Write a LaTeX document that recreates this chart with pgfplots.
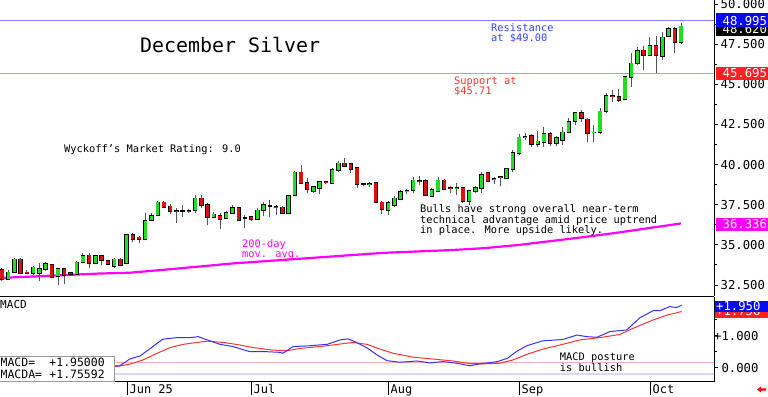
\documentclass[border=0pt]{standalone}
\usepackage{fontspec}
\setmainfont{DejaVu Sans Mono}
\usepackage{pgfplots}
\pgfplotsset{compat=1.18}
\usepackage{pgfplotstable}

\definecolor{cgreen}{HTML}{22DD22}
\definecolor{cred}{HTML}{DD1111}
\definecolor{cwick}{HTML}{555555}
\definecolor{resline}{HTML}{8080FF}
\definecolor{supline}{HTML}{FF8888}
\definecolor{mag}{HTML}{FF00FF}
\definecolor{macdblue}{HTML}{3333FF}
\definecolor{macdred}{HTML}{FF3333}
\definecolor{boxblue}{HTML}{0A0AF0}
\definecolor{boxred}{HTML}{FF2020}
\definecolor{annblue}{HTML}{3344FF}
\definecolor{annred}{HTML}{FF3333}
\definecolor{zeropink}{HTML}{FFB0B0}
\definecolor{lav}{HTML}{D8D8FF}

\newcommand{\fs}[1]{\fontsize{#1}{#1}\selectfont}

\pgfplotstableread{
x o h l c
1 32.86 33.43 32.80 33.30
2 33.30 34.17 33.24 34.11
5 33.24 33.68 33.11 33.61
6 33.24 33.86 32.74 33.49
7 33.49 33.92 33.36 33.80
9 33.05 33.55 32.49 33.49
12 33.18 33.99 33.11 33.92
13 33.92 34.49 33.86 34.30
15 33.86 34.36 33.80 34.30
18 33.68 34.17 33.55 34.11
20 33.86 35.67 33.80 35.61
23 35.36 36.98 35.30 36.48
24 36.54 36.98 36.48 36.79
25 36.85 37.73 36.79 37.66
31 37.16 38.10 36.98 37.91
34 36.73 37.04 36.67 36.91
36 36.67 37.10 36.60 36.98
37 36.98 37.48 36.91 37.29
41 36.60 37.29 36.54 37.16
42 37.16 37.66 36.79 37.48
46 36.98 38.10 36.91 38.04
47 38.10 39.59 38.04 39.53
50 38.35 38.66 38.22 38.60
51 38.54 38.97 38.16 38.91
53 38.85 39.78 38.78 39.66
54 39.66 40.22 39.53 40.09
59 38.77 38.91 38.60 38.80
62 37.16 37.73 36.85 37.60
63 37.48 38.04 37.35 37.91
64 37.85 38.41 37.79 38.29
65 38.33 38.47 38.16 38.35
66 38.41 39.22 38.22 39.03
69 38.04 38.53 37.97 38.41
70 38.35 39.22 38.29 39.03
73 38.51 38.85 38.10 38.55
75 37.73 38.41 37.48 38.35
76 38.35 38.66 38.22 38.54
77 38.54 39.53 38.22 39.35
79 39.08 39.22 38.78 39.12
81 39.16 39.78 39.10 39.72
82 39.72 40.90 39.53 40.72
83 40.72 41.90 40.59 41.71
84 41.70 41.96 41.52 41.73
86 41.28 42.09 41.09 41.46
87 41.40 42.34 41.09 41.90
89 41.34 41.78 41.15 41.65
90 41.53 42.34 41.21 42.02
91 42.02 42.90 41.96 42.65
92 42.71 43.27 42.46 43.21
95 41.99 42.46 41.40 42.02
96 42.02 43.52 41.90 43.33
97 43.33 44.45 43.21 44.27
100 44.08 45.51 44.02 45.45
101 45.45 46.95 44.83 46.32
102 46.32 47.32 46.20 47.07
104 46.82 47.94 46.76 47.38
106 46.76 48.26 46.51 47.94
107 48.01 48.57 47.94 48.44
109 47.63 48.82 47.51 48.62
}\greendata

\pgfplotstableread{
x o h l c
0 33.43 33.55 32.74 32.86
3 34.11 34.17 33.18 33.24
4 33.30 33.43 33.18 33.24
8 33.74 33.80 32.93 32.99
10 33.49 33.55 32.55 33.11
11 33.24 33.30 33.11 33.18
14 34.36 34.49 33.55 33.86
16 34.30 34.36 33.74 34.05
17 33.99 34.05 33.74 33.80
19 34.11 34.17 33.68 33.74
21 35.61 35.73 35.17 35.36
22 35.48 35.54 35.11 35.36
26 37.66 37.73 37.29 37.35
27 37.41 37.54 36.91 37.10
28 37.13 37.29 36.35 37.10
30 37.13 37.23 36.98 37.10
32 37.91 38.10 37.29 37.48
33 37.48 37.60 36.23 36.73
35 36.79 36.98 35.98 36.60
38 37.29 37.35 36.48 36.54
40 36.73 36.79 36.48 36.60
44 37.38 37.48 36.85 37.33
45 37.35 37.41 36.91 36.98
48 39.53 39.97 38.78 38.85
49 38.85 39.16 38.22 38.47
52 38.93 38.97 38.78 38.89
55 40.09 40.40 39.84 39.91
56 40.03 40.09 39.47 39.72
57 39.78 39.84 38.53 38.78
60 38.85 38.91 37.60 37.66
61 37.66 37.73 36.91 37.23
67 38.99 39.28 38.72 38.94
68 38.97 39.10 38.04 38.10
71 39.03 39.10 38.41 38.47
72 38.55 38.66 38.22 38.51
74 38.54 38.60 37.60 37.73
78 39.47 39.53 38.91 38.97
80 39.24 39.28 38.66 39.20
85 41.78 41.90 41.09 41.28
88 41.90 42.02 41.15 41.34
93 43.21 43.40 42.65 42.90
94 42.83 42.90 41.40 41.96
98 44.29 44.64 43.89 44.25
99 44.21 44.70 43.89 44.02
103 47.13 47.38 45.89 46.82
105 47.38 48.01 45.70 46.82
108 48.44 48.57 46.95 47.63
}\reddata

\pgfplotstableread{
x o h l c
29 37.10 37.48 36.73 37.12
39 36.67 36.85 36.04 36.70
43 37.41 37.79 36.73 37.43
58 38.78 38.85 38.66 38.80
}\blackdata

\pgfplotstableread{
x ma
0 32.94
15.7 33.21
20.5 33.26
26.5 33.46
37.1 33.84
47.8 34.13
61.3 34.50
72.1 34.67
77.4 34.79
82.7 34.98
88.1 35.23
93.4 35.48
98.7 35.75
104.2 36.06
109 36.33
}\madata

\pgfplotstableread{
x v
18.1 0.06
18.9 0.06
20.5 0.27
22.2 0.37
23.8 0.60
25.8 0.89
28.1 0.94
30.2 0.94
31.5 0.97
32.9 0.87
35.0 0.73
37.1 0.66
39.8 0.50
42.5 0.50
44.6 0.48
45.1 0.45
46.7 0.66
49.0 0.68
52.2 0.73
54.3 0.87
55.5 0.90
56.7 0.81
58.6 0.62
60.2 0.40
61.8 0.22
63.9 0.17
66.6 0.21
68.7 0.15
70.8 0.19
73.0 0.14
75.1 0.06
76.7 0.12
79.5 0.19
81.1 0.29
82.7 0.52
84.3 0.69
86.8 0.84
90.0 0.88
92.3 1.02
93.9 0.97
95.5 0.95
97.6 1.13
100.3 1.18
102.4 1.56
104.5 1.78
105.6 1.78
107.2 1.91
108.3 1.88
109.1 1.95
}\macddata

\pgfplotstableread{
x v
18.1 0.03
20.5 0.11
22.6 0.24
24.9 0.45
27.0 0.63
29.1 0.73
31.3 0.79
32.9 0.83
35.5 0.79
38.2 0.71
40.3 0.63
43.5 0.55
45.7 0.53
47.8 0.60
51.0 0.66
53.1 0.71
56.3 0.79
58.6 0.73
60.7 0.58
62.8 0.45
66.0 0.33
69.2 0.27
72.4 0.21
75.1 0.13
77.2 0.12
79.9 0.14
82.0 0.24
84.3 0.42
86.8 0.58
90.0 0.73
92.8 0.87
96.0 0.94
99.2 1.04
101.3 1.23
104.5 1.49
106.7 1.64
109.1 1.756
}\signaldata

\pgfplotsset{
  wick/.style={draw=none, mark=none, forget plot,
    error bars/.cd, y dir=plus, y explicit, error mark=none,
    error bar style={line width=1bp, draw=cwick}},
  bodyout/.style={draw=none, mark=none, forget plot,
    error bars/.cd, y dir=plus, y explicit, error mark=none,
    error bar style={line width=4.4bp, draw=black}},
  bodyin/.style={draw=none, mark=none, forget plot,
    error bars/.cd, y dir=plus, y explicit, error mark=none,
    error bar style={line width=3.2bp, draw=#1}},
}

\begin{document}
\begin{tikzpicture}[x=1bp,y=1bp]
\useasboundingbox (0,0) rectangle (768,396);

% ---------------- price panel ----------------
\begin{axis}[
  at={(0bp,100bp)}, anchor=south west,
  width=714bp, height=296bp, scale only axis,
  xmin=-0.32, xmax=114.3, ymin=31.81, ymax=50.249,
  axis x line=bottom, axis y line=right,
  axis line style={-, line width=1bp, black},
  xtick=\empty,
  ytick={32.5,35,37.5,40,42.5,45,47.5,50},
  yticklabels={32.500,35.000,37.500,40.000,42.500,45.000,47.500,50.000},
  minor ytick={33.75,36.25,38.75,41.25,43.75,46.25,48.75},
  tick align=outside, major tick length=4bp, minor tick length=2.5bp,
  tick style={black, line width=0.8bp},
  yticklabel style={font=\fs{12.3}, anchor=base west, inner sep=0pt, xshift=2.5bp, yshift=-4.5bp},
]
\addplot[resline, line width=1.2bp, forget plot] coordinates {(-1,48.97) (115,48.97)};
\addplot[supline, line width=1.2bp, forget plot] coordinates {(-1,45.69) (115,45.69)};
\addplot[mag, line width=2.2bp, forget plot] table[x=x, y=ma] {\madata};

% wicks
\addplot[wick] table[x=x, y=l, y error plus expr=\thisrow{h}-\thisrow{l}] {\greendata};
\addplot[wick] table[x=x, y=l, y error plus expr=\thisrow{h}-\thisrow{l}] {\reddata};
\addplot[wick] table[x=x, y=l, y error plus expr=\thisrow{h}-\thisrow{l}] {\blackdata};
% bodies
\addplot[bodyout] table[x=x, y expr=\thisrow{o}-0.035, y error plus expr=\thisrow{c}-\thisrow{o}+0.07] {\greendata};
\addplot[bodyin=cgreen] table[x=x, y=o, y error plus expr=\thisrow{c}-\thisrow{o}] {\greendata};
\addplot[bodyout] table[x=x, y expr=\thisrow{c}-0.035, y error plus expr=\thisrow{o}-\thisrow{c}+0.07] {\reddata};
\addplot[bodyin=cred] table[x=x, y=c, y error plus expr=\thisrow{o}-\thisrow{c}] {\reddata};
\addplot[bodyout] table[x=x, y expr=\thisrow{o}-0.035, y error plus expr=\thisrow{c}-\thisrow{o}+0.07] {\blackdata};
\end{axis}

% ---------------- MACD panel ----------------
\begin{axis}[
  at={(0bp,14.3bp)}, anchor=south west,
  width=714bp, height=84.7bp, scale only axis,
  xmin=-0.32, xmax=114.3, ymin=-0.4375, ymax=2.209,
  axis x line=bottom, axis y line=right,
  axis line style={-, line width=1bp, black},
  xtick=\empty,
  ytick={0,1,2}, yticklabels={\phantom{+}0.000,+1.000,{}},
  minor ytick={0.5,1.5},
  tick align=outside, major tick length=4bp, minor tick length=2.5bp,
  tick style={black, line width=0.8bp},
  yticklabel style={font=\fs{12.3}, anchor=base west, inner sep=0pt, xshift=-4bp, yshift=-4.5bp},
]
\addplot[zeropink, line width=0.8bp, forget plot] coordinates {(-1,0.17) (115,0.17)};
\addplot[lav, line width=2bp, forget plot] coordinates {(-1,-0.21) (115,-0.21)};
\addplot[macdred, line width=1bp, forget plot] table[x=x, y=v] {\signaldata};
\addplot[macdblue, line width=1bp, forget plot] table[x=x, y=v] {\macddata};
\end{axis}

% ---------------- month ticks ----------------
\begin{axis}[
  at={(0bp,14.3bp)}, anchor=south west,
  width=714bp, height=84.7bp, scale only axis,
  xmin=-0.32, xmax=114.3, ymin=0, ymax=1,
  axis x line=bottom, axis y line=none,
  axis line style={-, line width=1bp, black},
  xtick={20.06,39.97,61.96,82.98,104.01},
  xticklabels={Jun 25,Jul,Aug,Sep,Oct},
  tick align=outside, major tick length=13bp,
  tick style={black, line width=0.8bp},
  xticklabel style={font=\fs{12}, anchor=base west, inner sep=0pt, xshift=2.5bp, yshift=1bp},
]
\end{axis}

% ---------------- annotations ----------------
\node[anchor=base west, inner sep=0pt, font=\fs{20}] at (140,343.2) {December Silver};
\node[anchor=base west, inner sep=0pt, font=\fs{10.4}] at (64,243.9) {Wyckoff's Market Rating: 9.0};
\node[anchor=base west, inner sep=0pt, font=\fs{10.4}, text=annblue] at (491,364.9) {Resistance};
\node[anchor=base west, inner sep=0pt, font=\fs{10.4}, text=annblue] at (491,354.5) {at \$49.00};
\node[anchor=base west, inner sep=0pt, font=\fs{10.4}, text=annred] at (454,311.9) {Support at};
\node[anchor=base west, inner sep=0pt, font=\fs{10.4}, text=annred] at (454,301.5) {\$45.71};
\node[anchor=base west, inner sep=0pt, font=\fs{10.4}, text=mag] at (242,148.5) {200-day};
\node[anchor=base west, inner sep=0pt, font=\fs{10.4}, text=mag] at (242,138.2) {mov. avg.};
\node[anchor=base west, inner sep=0pt, font=\fs{10.4}] at (420,183.2) {Bulls have strong overall near-term};
\node[anchor=base west, inner sep=0pt, font=\fs{10.4}] at (420,172.9) {technical advantage amid price uptrend};
\node[anchor=base west, inner sep=0pt, font=\fs{10.4}] at (420,162.5) {in place. More upside likely.};
\node[anchor=base west, inner sep=0pt, font=\fs{10.4}] at (559.7,35.2) {MACD posture};
\node[anchor=base west, inner sep=0pt, font=\fs{10.4}] at (559.7,24.5) {is bullish};
\node[anchor=base west, inner sep=0pt, font=\fs{11.1}] at (0,88) {MACD};

% info box
\filldraw[fill=white, draw=gray!80, line width=0.8bp] (-1,14.3) rectangle (114,39.3);
\node[anchor=base west, inner sep=0pt, font=\fs{11.5}] at (0.5,29.5) {MACD=};
\node[anchor=base west, inner sep=0pt, font=\fs{11.5}] at (49.3,29.5) {+1.95000};
\node[anchor=base west, inner sep=0pt, font=\fs{11.5}] at (0.5,17.8) {MACDA=};
\node[anchor=base west, inner sep=0pt, font=\fs{11.5}] at (49.3,17.8) {+1.75592};

% value boxes on the right
\fill[black] (716,360) rectangle (768,374);
\node[anchor=base west, inner sep=0pt, font=\fs{12.3}, text=white] at (722.5,362.6) {48.620};
\fill[boxblue] (716,368.5) rectangle (768,382.5);
\node[anchor=base west, inner sep=0pt, font=\fs{12.3}, text=white] at (722.5,370.9) {48.995};
\fill[boxred] (716,316) rectangle (768,329.3);
\node[anchor=base west, inner sep=0pt, font=\fs{12.3}, text=white] at (722.5,318.3) {45.695};
\fill[mag] (716,165.5) rectangle (768,178.3);
\node[anchor=base west, inner sep=0pt, font=\fs{12.3}, text=white] at (722.5,167.6) {36.336};
\fill[boxred] (714.5,77.7) rectangle (768,91.7);
\node[anchor=base west, inner sep=0pt, font=\fs{12.3}, text=white] at (716,80.3) {+1.756};
\fill[boxblue] (714.5,84.3) rectangle (768,95.3);
\node[anchor=base west, inner sep=0pt, font=\fs{12.3}, text=white] at (716,85.6) {+1.950};

% small red arrow
\fill[red] (757,6.5) -- (761,9.5) -- (761,7.6) -- (766,7.6) -- (766,5.4) -- (761,5.4) -- (761,3.5) -- cycle;
\end{tikzpicture}
\end{document}
